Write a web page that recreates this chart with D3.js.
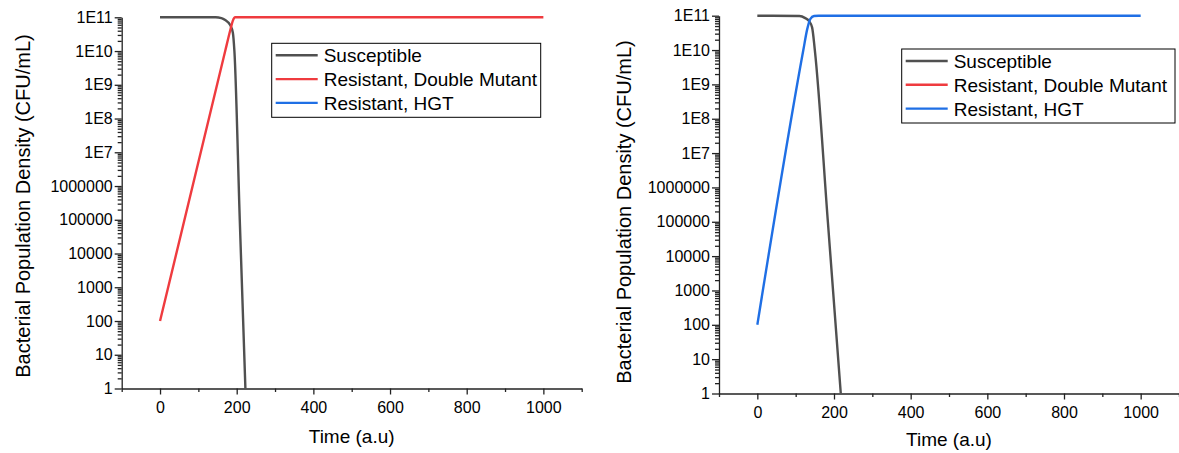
<!DOCTYPE html>
<html>
<head>
<meta charset="utf-8">
<script src="https://cdn.jsdelivr.net/npm/d3@7"></script>
<style>
    body { margin: 0; background: #fff; }
    svg { display: block; }
    text { font-family: Arial, 'Liberation Sans', sans-serif; fill: #000; }
</style>
</head>
<body>
<div id="chart"></div>
<script>
// etichette e valori degli assi
const yTickValues = [1, 10, 100, 1e3, 1e4, 1e5, 1e6, 1e7, 1e8, 1e9, 1e10, 1e11];
const yTickLabels = ['1', '10', '100', '1000', '10000', '100000', '1000000', '1E7', '1E8', '1E9', '1E10', '1E11'];
const xTickValues = [0, 200, 400, 600, 800, 1000];
const xMinorValues = [-100, 100, 300, 500, 700, 900, 1100];
const legendNames = ['Susceptible', 'Resistant, Double Mutant', 'Resistant, HGT'];
const seriesColors = ['#505050', '#ef3b3f', '#1f6fe5'];

// pannello sinistro: suscettibili e doppio mutante
const leftSusceptibleT = [0, 145, 160, 170, 183, 190, 194, 208, 222.7];
const leftSusceptibleN = [1e11, 1e11, 9.5e10, 8.3e10, 5.9e10, 3.5e10, 1e10, 1e5, 1];
const leftDoubleT = [0, 170, 184, 190, 196, 1000];
const leftDoubleN = [1e2, 1e10, 4.5e10, 8e10, 1e11, 1e11];

// pannello destro: suscettibili e HGT
const rightSusceptibleT = [0, 110, 125, 135, 143, 150, 184, 217.7];
const rightSusceptibleN = [1e11, 9.8e10, 8.5e10, 7e10, 4.5e10, 1e10, 1e5, 1];
const rightHgtT = [0, 120, 130, 138, 148, 160, 1000];
const rightHgtN = [1e2, 1e10, 4e10, 8e10, 9.8e10, 1e11, 1e11];

const svg = d3.select('#chart')
    .append('svg')
    .attr('width', 1179)
    .attr('height', 453);

function drawPanel(p) {
    const x = d3.scaleLinear().domain([-100, 1100]).range([p.left, p.left + 460]);
    const y = d3.scaleLog().domain([1, 1e11]).range([p.bottom, p.top]);

    const g = svg.append('g');

    // tacche minori asse y (2..9 per ogni decade)
    let minorY = [];
    for (let e = 0; e < 11; e++) {
        for (let k = 2; k <= 9; k++) minorY.push(k * Math.pow(10, e));
    }
    g.append('g')
        .attr('transform', `translate(${p.left},0)`)
        .call(d3.axisLeft(y).tickValues(minorY).tickSize(4).tickSizeOuter(0).tickFormat(''))
        .call(a => a.select('.domain').remove());

    // asse y principale
    g.append('g')
        .attr('transform', `translate(${p.left},0)`)
        .call(d3.axisLeft(y).tickValues(yTickValues).tickSize(7).tickSizeOuter(0).tickPadding(2)
            .tickFormat((d, i) => yTickLabels[i]));

    // tacche minori asse x
    g.append('g')
        .attr('transform', `translate(0,${p.bottom})`)
        .call(d3.axisBottom(x).tickValues(xMinorValues).tickSize(3.5).tickSizeOuter(0).tickFormat(''))
        .call(a => a.select('.domain').remove());

    // asse x principale
    g.append('g')
        .attr('transform', `translate(0,${p.bottom})`)
        .call(d3.axisBottom(x).tickValues(xTickValues).tickSize(6).tickSizeOuter(0).tickPadding(7)
            .tickFormat(d3.format('d')));

    g.selectAll('.domain, .tick line').attr('stroke', '#222').attr('stroke-width', 1.3);
    g.selectAll('.tick text').style('font-size', '16px').attr('fill', '#000');

    // titoli assi
    g.append('text')
        .attr('x', (p.left + p.left + 460) / 2)
        .attr('y', p.xTitleY)
        .attr('text-anchor', 'middle')
        .style('font-size', '19px')
        .text('Time (a.u)');

    g.append('text')
        .attr('transform', `translate(${p.yTitleX},${p.yTitleY}) rotate(-90)`)
        .attr('text-anchor', 'middle')
        .style('font-size', '20px')
        .text('Bacterial Population Density (CFU/mL)');

    // linee
    const line = d3.line()
        .x(d => x(d[0]))
        .y(d => y(d[1]))
        .curve(d3.curveMonotoneX);

    for (let s of p.series) {
        const pts = s.t.map((t, i) => [t, s.n[i]]);
        g.append('path')
            .datum(pts)
            .attr('fill', 'none')
            .attr('stroke', seriesColors[s.c])
            .attr('stroke-width', 2.4)
            .attr('stroke-linejoin', 'round')
            .attr('d', line);
    }

    // legenda
    const lg = g.append('g').attr('transform', `translate(${p.legX},${p.legY})`);
    lg.append('rect')
        .attr('width', p.legW)
        .attr('height', 74)
        .attr('fill', '#fff')
        .attr('stroke', '#000')
        .attr('stroke-width', 1);
    legendNames.forEach(function (name, i) {
        const cy = 12 + i * 23.8;
        lg.append('line')
            .attr('x1', 4).attr('x2', 46)
            .attr('y1', cy).attr('y2', cy)
            .attr('stroke', seriesColors[i])
            .attr('stroke-width', 2.4);
        lg.append('text')
            .attr('x', 52)
            .attr('y', cy + 7)
            .style('font-size', '19px')
            .text(name);
    });
}

drawPanel({
    left: 121.7, top: 17.3, bottom: 388.5,
    xTitleY: 443, yTitleX: 30, yTitleY: 206,
    legX: 271.7, legY: 43.3, legW: 269,
    series: [
        { t: leftSusceptibleT, n: leftSusceptibleN, c: 0 },
        { t: leftDoubleT, n: leftDoubleN, c: 1 }
    ]
});

drawPanel({
    left: 719, top: 15.7, bottom: 393.5,
    xTitleY: 446, yTitleX: 631, yTitleY: 212,
    legX: 901.7, legY: 49, legW: 273.3,
    series: [
        { t: rightSusceptibleT, n: rightSusceptibleN, c: 0 },
        { t: rightHgtT, n: rightHgtN, c: 2 }
    ]
});
</script>
</body>
</html>
